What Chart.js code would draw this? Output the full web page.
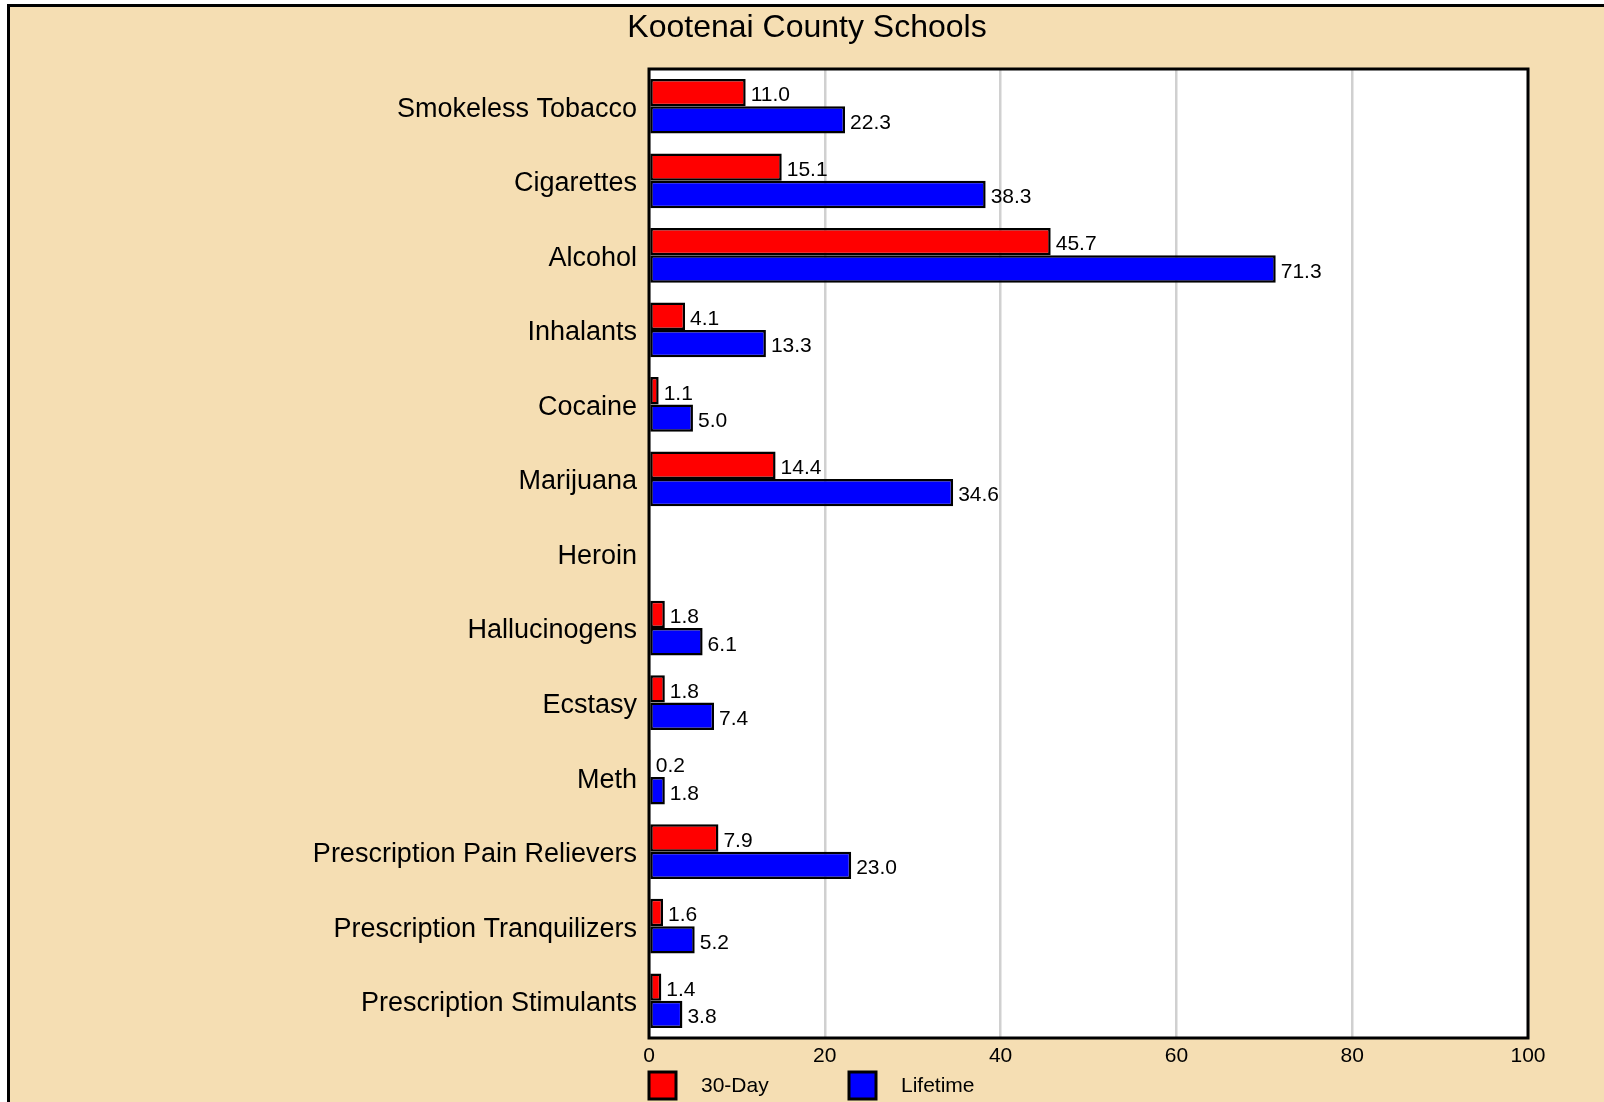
<!DOCTYPE html>
<html>
<head>
<meta charset="utf-8">
<title>Kootenai County Schools</title>
<script src="https://cdn.jsdelivr.net/npm/chart.js@4.4.0/dist/chart.umd.min.js"></script>
<style>
    html, body { margin: 0; padding: 0; background: #ffffff; overflow: hidden; }
    #frame {
        position: absolute;
        left: 7px;
        top: 4px;
        width: 1600px;
        height: 1100px;
        background: #f5deb3;
        border-left: 3px solid #000;
        border-top: 3px solid #000;
    }
    #surveyChart { position: absolute; left: 0; top: 0; }
</style>
</head>
<body>
<div id="frame">
    <canvas id="surveyChart" width="1594" height="1095"></canvas>
</div>
<script>
// data
const categories = [
    'Smokeless Tobacco', 'Cigarettes', 'Alcohol', 'Inhalants', 'Cocaine',
    'Marijuana', 'Heroin', 'Hallucinogens', 'Ecstasy', 'Meth',
    'Prescription Pain Relievers', 'Prescription Tranquilizers', 'Prescription Stimulants'
];
const thirtyDay = [11.0, 15.1, 45.7, 4.1, 1.1, 14.4, null, 1.8, 1.8, 0.2, 7.9, 1.6, 1.4];
const lifetime = [22.3, 38.3, 71.3, 13.3, 5.0, 34.6, null, 6.1, 7.4, 1.8, 23.0, 5.2, 3.8];
const xTicks = [0, 20, 40, 60, 80, 100];

const FONT = '"Liberation Sans", Arial, sans-serif';

document.addEventListener('DOMContentLoaded', function() {
    const ctx = document.getElementById('surveyChart').getContext('2d');

    // white plot background + black frame
    const plotFrame = {
        id: 'plotFrame',
        beforeDraw(chart) {
            const a = chart.chartArea;
            const c = chart.ctx;
            c.save();
            c.fillStyle = '#ffffff';
            c.fillRect(a.left, a.top, a.right - a.left, a.bottom - a.top);
            c.restore();
        },
        afterDraw(chart) {
            const a = chart.chartArea;
            const c = chart.ctx;
            c.save();
            c.strokeStyle = '#000';
            c.lineWidth = 3;
            c.strokeRect(a.left, a.top, a.right - a.left, a.bottom - a.top);
            c.restore();
        }
    };

    // value next to each bar end
    const valueLabels = {
        id: 'valueLabels',
        afterDatasetsDraw(chart) {
            const c = chart.ctx;
            c.save();
            c.font = '21px ' + FONT;
            c.fillStyle = '#000';
            c.textAlign = 'left';
            c.textBaseline = 'middle';
            chart.data.datasets.forEach(function(ds, i) {
                const meta = chart.getDatasetMeta(i);
                meta.data.forEach(function(bar, j) {
                    const v = ds.data[j];
                    if (v === null || v === undefined) return;
                    c.fillText(v.toFixed(1), bar.x + 5, bar.y + 3);
                });
            });
            c.restore();
        }
    };

    // legend under the axis, starting at the plot's left edge
    const bottomLegend = {
        id: 'bottomLegend',
        afterDraw(chart) {
            const c = chart.ctx;
            const left = chart.chartArea.left;
            const top = 1065;
            const box = 27;
            c.save();
            c.font = '21px ' + FONT;
            c.textAlign = 'left';
            c.textBaseline = 'middle';
            chart.data.datasets.forEach(function(ds, i) {
                const x = left + i * 200;
                c.fillStyle = ds.backgroundColor;
                c.fillRect(x, top, box, box);
                c.strokeStyle = '#000';
                c.lineWidth = 3;
                c.strokeRect(x, top, box, box);
                c.fillStyle = '#000';
                c.fillText(ds.label, x + 52, top + box / 2 + 1);
            });
            c.restore();
        }
    };

    const surveyChart = new Chart(ctx, {
        type: 'bar',
        data: {
            labels: categories,
            datasets: [
                {
                    label: '30-Day',
                    data: thirtyDay,
                    backgroundColor: '#ff0000',
                    borderColor: '#000',
                    borderWidth: 2.5,
                    borderSkipped: false
                },
                {
                    label: 'Lifetime',
                    data: lifetime,
                    backgroundColor: '#0000ff',
                    borderColor: '#000',
                    borderWidth: 2.5,
                    borderSkipped: false
                }
            ]
        },
        options: {
            indexAxis: 'y',
            responsive: false,
            animation: false,
            categoryPercentage: 0.734,
            barPercentage: 1.0,
            layout: { padding: { left: 76, right: 76, top: 0, bottom: 0 } },
            scales: {
                x: {
                    min: 0,
                    max: 100,
                    afterBuildTicks(axis) {
                        axis.ticks = xTicks.map(v => ({ value: v }));
                    },
                    afterFit(axis) { axis.height = 64; },
                    grid: { color: '#d0d0d0', lineWidth: 2.5, drawTicks: false },
                    border: { display: false },
                    ticks: {
                        padding: 6,
                        color: '#000',
                        font: { family: FONT, size: 21 }
                    }
                },
                y: {
                    afterFit(axis) { axis.width = 563; },
                    grid: { display: false, drawTicks: false },
                    border: { display: false },
                    ticks: {
                        padding: 12,
                        labelOffset: 3,
                        color: '#000',
                        font: { family: FONT, size: 27 }
                    }
                }
            },
            plugins: {
                legend: { display: false },
                tooltip: { enabled: false },
                title: {
                    display: true,
                    text: 'Kootenai County Schools',
                    color: '#000',
                    font: { family: FONT, size: 32, weight: 'normal', lineHeight: 1 },
                    padding: { top: 5, bottom: 25 }
                }
            }
        },
        plugins: [plotFrame, valueLabels, bottomLegend]
    });
});
</script>
</body>
</html>
